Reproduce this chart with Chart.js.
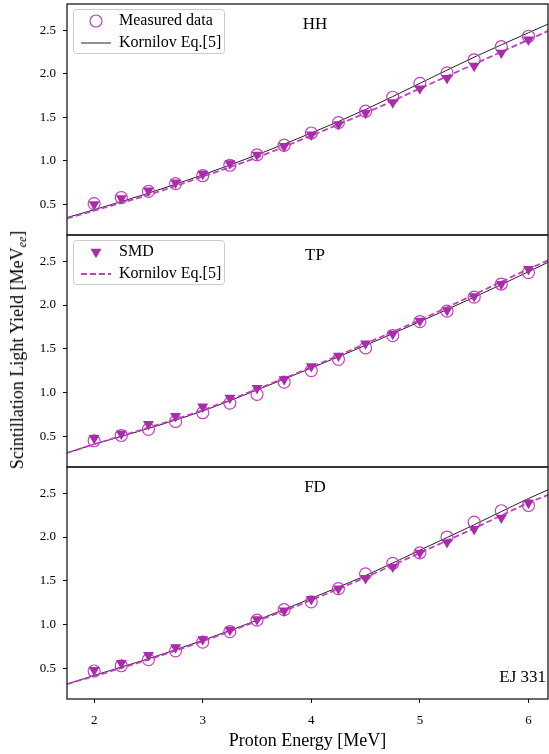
<!DOCTYPE html>
<html><head><meta charset="utf-8">
<script src="https://cdn.jsdelivr.net/npm/chart.js@4/dist/chart.umd.min.js"></script>
<style>
body{margin:0;background:#fff;width:549px;height:754px;overflow:hidden;position:relative;font-family:'Liberation Serif',serif;}
canvas{position:absolute;left:0;top:0;}
#ytitle{position:absolute;left:17px;top:350px;transform:translate(-50%,-50%) rotate(-90deg);white-space:nowrap;font-size:18px;color:#000;line-height:20px;}
#ytitle sub{font-size:12px;vertical-align:-3px;line-height:0;}
</style></head><body>
<canvas id="c1" width="549" height="754"></canvas>
<canvas id="c2" width="549" height="754"></canvas>
<canvas id="c3" width="549" height="754"></canvas>
<div id="ytitle">Scintillation Light Yield [MeV<sub><i>ee</i></sub>]</div>
<script>
// ---- data ----
const energy = [2.0, 2.25, 2.5, 2.75, 3.0, 3.25, 3.5, 3.75, 4.0, 4.25, 4.5, 4.75, 5.0, 5.25, 5.5, 5.75, 6.0];
const fitEnergy = [1.75, 2.0, 2.5, 3.0, 3.5, 4.0, 4.5, 5.0, 5.5, 6.0, 6.2];

const hhMeasured = [0.51, 0.58, 0.65, 0.74, 0.83, 0.95, 1.07, 1.18, 1.32, 1.44, 1.57, 1.73, 1.89, 2.01, 2.16, 2.31, 2.43];
const hhSMD      = [0.50, 0.57, 0.66, 0.75, 0.85, 0.97, 1.07, 1.17, 1.30, 1.42, 1.55, 1.67, 1.83, 1.95, 2.09, 2.24, 2.39];
const hhFitMeasured = [0.35, 0.44, 0.63, 0.84, 1.07, 1.32, 1.59, 1.89, 2.19, 2.47, 2.58];
const hhFitSMD      = [0.34, 0.43, 0.61, 0.82, 1.04, 1.29, 1.55, 1.83, 2.11, 2.39, 2.50];

const tpMeasured = [0.45, 0.51, 0.58, 0.67, 0.77, 0.88, 0.98, 1.12, 1.25, 1.38, 1.51, 1.65, 1.81, 1.93, 2.09, 2.24, 2.37];
const tpSMD      = [0.48, 0.53, 0.64, 0.73, 0.84, 0.94, 1.05, 1.15, 1.30, 1.42, 1.56, 1.67, 1.82, 1.94, 2.10, 2.24, 2.41];
const tpFitMeasured = [0.31, 0.41, 0.59, 0.79, 1.03, 1.28, 1.54, 1.81, 2.09, 2.38, 2.50];
const tpFitSMD      = [0.31, 0.41, 0.60, 0.80, 1.04, 1.29, 1.56, 1.83, 2.12, 2.41, 2.52];

const fdMeasured = [0.47, 0.53, 0.60, 0.70, 0.80, 0.92, 1.05, 1.17, 1.26, 1.41, 1.58, 1.70, 1.82, 2.00, 2.17, 2.30, 2.36];
const fdSMD      = [0.48, 0.56, 0.65, 0.74, 0.83, 0.94, 1.06, 1.16, 1.29, 1.41, 1.53, 1.66, 1.82, 1.94, 2.09, 2.22, 2.39];
const fdFitMeasured = [0.32, 0.42, 0.61, 0.82, 1.05, 1.30, 1.56, 1.85, 2.14, 2.44, 2.55];
const fdFitSMD      = [0.32, 0.41, 0.60, 0.81, 1.04, 1.28, 1.54, 1.82, 2.10, 2.39, 2.49];

const xTicks = [2, 3, 4, 5, 6];
const yTicks = [0.5, 1.0, 1.5, 2.0, 2.5];
const panelNames = ['HH', 'TP', 'FD'];
const legendTop = ['Measured data', 'Kornilov Eq.[5]'];
const legendMid = ['SMD', 'Kornilov Eq.[5]'];
const xTitle = 'Proton Energy [MeV]';
const noteText = 'EJ 331';

// ---- styles ----
const C_TRI = '#a92ca9';
const C_MAG = '#c23fc2';
const C_BLK = '#222222';
const FONT = '"Liberation Serif", serif';
Chart.defaults.font.family = FONT;
Chart.defaults.color = '#000';

function pts(xs, ys) { return xs.map((x, i) => ({x: x, y: ys[i]})); }

function drawTri(ctx, x, y, r) {
  ctx.beginPath();
  ctx.moveTo(x, y + r);
  ctx.lineTo(x - r * Math.sqrt(3) / 2, y - r / 2);
  ctx.lineTo(x + r * Math.sqrt(3) / 2, y - r / 2);
  ctx.closePath();
  ctx.fillStyle = C_TRI; ctx.fill();
}

const decor = {
  id: 'decor',
  afterDatasetsDraw(chart, args, opts) {
    const ctx = chart.ctx, a = chart.chartArea;
    ctx.save();
    ctx.strokeStyle = '#1a1a1a'; ctx.lineWidth = 1.3;
    ctx.strokeRect(a.left, a.top, a.right - a.left, a.bottom - a.top);
    ctx.fillStyle = '#000';
    ctx.font = '17px ' + FONT;
    ctx.textAlign = 'center'; ctx.textBaseline = 'middle';
    ctx.fillText(opts.label, 315, a.top + 21);
    if (opts.note) {
      ctx.textAlign = 'right';
      ctx.fillText(opts.note, 546, a.bottom - 21);
    }
    if (opts.legend) {
      const bx = 73.5, by = a.top + 5.5, bw = 151, bh = 44, rr = 3;
      ctx.beginPath();
      ctx.moveTo(bx + rr, by);
      ctx.arcTo(bx + bw, by, bx + bw, by + bh, rr);
      ctx.arcTo(bx + bw, by + bh, bx, by + bh, rr);
      ctx.arcTo(bx, by + bh, bx, by, rr);
      ctx.arcTo(bx, by, bx + bw, by, rr);
      ctx.closePath();
      ctx.fillStyle = 'rgba(255,255,255,0.85)'; ctx.fill();
      ctx.strokeStyle = '#cccccc'; ctx.lineWidth = 1; ctx.stroke();
      const r1 = a.top + 17, r2 = a.top + 39;
      if (opts.kind === 'meas') {
        ctx.beginPath(); ctx.arc(96, r1, 6, 0, Math.PI * 2);
        ctx.strokeStyle = C_MAG; ctx.lineWidth = 1.2; ctx.stroke();
        ctx.beginPath(); ctx.moveTo(81, r2); ctx.lineTo(111, r2);
        ctx.strokeStyle = C_BLK; ctx.lineWidth = 1; ctx.stroke();
      } else {
        drawTri(ctx, 96, r1, 6.3);
        ctx.beginPath(); ctx.setLineDash([6, 3]); ctx.moveTo(81, r2); ctx.lineTo(111, r2);
        ctx.strokeStyle = C_MAG; ctx.lineWidth = 1.8; ctx.stroke(); ctx.setLineDash([]);
      }
      ctx.fillStyle = '#000'; ctx.font = '16px ' + FONT; ctx.textAlign = 'left';
      ctx.fillText(opts.legend[0], 119, r1);
      ctx.fillText(opts.legend[1], 119, r2);
    }
    ctx.restore();
  }
};

function makeChart(id, meas, smd, fitM, fitS, pad, opts, bottom) {
  const datasets = [
    {label: 'SMD', data: pts(energy, smd), showLine: false, pointStyle: 'triangle', pointRotation: 180,
     pointRadius: 6.3, backgroundColor: C_TRI, borderColor: C_TRI, pointBorderWidth: 0, order: 0, clip: 0},
    {label: 'Measured data', data: pts(energy, meas), showLine: false, pointStyle: 'circle',
     pointRadius: 6, borderColor: C_MAG, backgroundColor: 'rgba(0,0,0,0)', pointBorderWidth: 1.2, order: 1, clip: 0},
    {label: 'Kornilov SMD', data: pts(fitEnergy, fitS), showLine: true, borderColor: C_MAG, borderWidth: 1.8,
     borderDash: [6, 3], pointRadius: 0, cubicInterpolationMode: 'monotone', order: 2, clip: 0},
    {label: 'Kornilov measured', data: pts(fitEnergy, fitM), showLine: true, borderColor: C_BLK, borderWidth: 1,
     pointRadius: 0, cubicInterpolationMode: 'monotone', order: 3, clip: 0}
  ];
  return new Chart(document.getElementById(id), {
    type: 'scatter',
    data: {datasets: datasets},
    plugins: [decor],
    options: {
      responsive: false, animation: false, devicePixelRatio: 1,
      layout: {padding: pad, autoPadding: false},
      plugins: {legend: {display: false}, tooltip: {enabled: false}, decor: opts},
      scales: {
        x: {
          type: 'linear', min: 1.75, max: 6.18, display: bottom,
          afterBuildTicks: s => { s.ticks = xTicks.map(v => ({value: v})); },
          afterFit: s => { if (bottom) s.height = 55; s.paddingLeft = 0; s.paddingRight = 0; },
          border: {display: false},
          grid: {display: true, drawOnChartArea: false, drawTicks: true, tickLength: 4, color: '#000', tickWidth: 1},
          ticks: {padding: 10, font: {size: 13}, color: '#000', maxRotation: 0, callback: v => String(v)},
          title: {display: bottom, text: xTitle, font: {size: 18}, color: '#000', padding: {top: 0, bottom: 2}}
        },
        y: {
          type: 'linear', min: 0.15, max: 2.8,
          afterBuildTicks: s => { s.ticks = yTicks.map(v => ({value: v})); },
          afterFit: s => { s.width = 67; s.paddingTop = 0; s.paddingBottom = 0; },
          border: {display: false},
          grid: {display: true, drawOnChartArea: false, drawTicks: true, tickLength: 4, color: '#000', tickWidth: 1},
          ticks: {padding: 7, font: {size: 13}, color: '#000', callback: v => Number(v).toFixed(1)}
        }
      }
    }
  });
}

makeChart('c1', hhMeasured, hhSMD, hhFitMeasured, hhFitSMD,
  {left: 0, right: 1, top: 4, bottom: 519}, {label: panelNames[0], legend: legendTop, kind: 'meas'}, false);
makeChart('c2', tpMeasured, tpSMD, tpFitMeasured, tpFitSMD,
  {left: 0, right: 1, top: 235, bottom: 287}, {label: panelNames[1], legend: legendMid, kind: 'smd'}, false);
makeChart('c3', fdMeasured, fdSMD, fdFitMeasured, fdFitSMD,
  {left: 0, right: 1, top: 467, bottom: 0}, {label: panelNames[2], note: noteText}, true);
</script>
</body></html>
